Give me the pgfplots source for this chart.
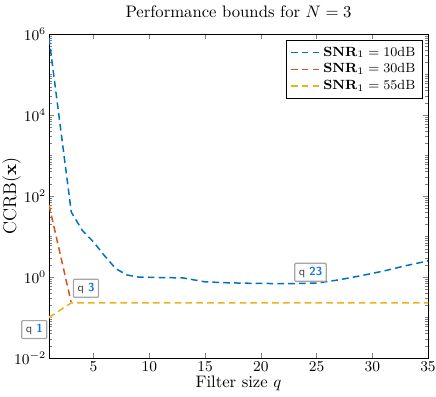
\documentclass[border=0pt]{standalone}
\usepackage{pgfplots}
\pgfplotsset{compat=1.18}
\definecolor{mblue}{rgb}{0,0.447,0.741}
\definecolor{mred}{rgb}{0.85,0.325,0.098}
\definecolor{myellow}{rgb}{0.929,0.694,0.125}
\definecolor{tipblue}{rgb}{0.1,0.45,0.9}
\begin{document}
\begin{tikzpicture}
\begin{axis}[
  scale only axis,
  width=227.4pt, height=194.4pt,
  ymode=log,
  xmin=1, xmax=35,
  ymin=1e-2, ymax=1e6,
  clip mode=individual,
  xtick={5,10,15,20,25,30,35},
  ytick={1e-2,1,1e2,1e4,1e6},
  minor ytick={2e-2,3e-2,4e-2,5e-2,6e-2,7e-2,8e-2,9e-2,1e-1,
    2e-1,3e-1,4e-1,5e-1,6e-1,7e-1,8e-1,9e-1,
    2,3,4,5,6,7,8,9,10,20,30,40,50,60,70,80,90,
    200,300,400,500,600,700,800,900,1e3,
    2e3,3e3,4e3,5e3,6e3,7e3,8e3,9e3,
    2e4,3e4,4e4,5e4,6e4,7e4,8e4,9e4,1e5,
    2e5,3e5,4e5,5e5,6e5,7e5,8e5,9e5},
  tick align=inside,
  major tick length=3pt,
  minor tick length=1.6pt,
  tick label style={font=\small},
  yticklabel style={inner xsep=1.5pt},
  xticklabel style={inner ysep=2pt},
  title={Performance bounds for $N=3$},
  xlabel={Filter size $q$},
  xlabel style={yshift=3pt},
  ylabel={CCRB($\mathbf{x}$)},
  every axis y label/.style={at={(rel axis cs:0,0.5)}, rotate=90, anchor=center,
    yshift=22.4pt, font=\fontsize{11}{13}\selectfont},
  legend style={at={(0.985,0.982)}, anchor=north east, draw=black, fill=white,
    font=\footnotesize, row sep=-1pt, inner sep=2pt},
  legend cell align=left,
  dashed style/.style={line width=0.9pt, dash pattern=on 4pt off 2.5pt},
]
\addlegendimage{mblue, dashed style}
\addlegendentry{$\mathbf{SNR}_1 = 10$dB}
\addlegendimage{mred, dashed style}
\addlegendentry{$\mathbf{SNR}_1 = 30$dB}
\addlegendimage{myellow, dashed style}
\addlegendentry{$\mathbf{SNR}_1 = 55$dB}
\addplot[mblue, dashed style, forget plot] coordinates {
 (1,8e5) (3,40) (4,14) (5,7.3) (6,3.3) (7,1.6) (8,1.12) (9,1.0)
 (11,0.97) (13,0.95) (15,0.76) (17,0.72) (19,0.7) (21,0.69) (23,0.69)
 (25,0.71) (27,0.85) (29,1.08) (31,1.4) (33,1.9) (35,2.5)};
\addplot[mred, dashed style, forget plot] coordinates {
 (1,60) (3,0.23) (5,0.23) (7,0.23) (9,0.23) (11,0.23) (13,0.23) (15,0.23)
 (17,0.23) (19,0.23) (21,0.23) (23,0.23) (25,0.23) (27,0.23) (29,0.23)
 (31,0.23) (33,0.23) (35,0.23)};
\addplot[myellow, dashed style, forget plot, preaction={draw=white, solid, line width=1.3pt}] coordinates {
 (1,0.1) (3,0.23) (5,0.23) (7,0.23) (9,0.23) (11,0.23) (13,0.23) (15,0.23)
 (17,0.23) (19,0.23) (21,0.23) (23,0.23) (25,0.23) (27,0.23) (29,0.23)
 (31,0.23) (33,0.23) (35,0.23)};
\tikzset{tip/.style={draw=gray!70, fill=white, line width=0.7pt, rounded corners=0.5pt,
  inner xsep=2.4pt, inner ysep=2.2pt, font=\sffamily\scriptsize}}
\node[tip, anchor=north east] at ([xshift=-1pt,yshift=-1.5pt]axis cs:1,0.1)
  {\textcolor{gray!60!black}{q} \textcolor{tipblue}{\textbf{1}}};
\node[tip, anchor=south west] at ([xshift=1pt,yshift=3pt]axis cs:3,0.23)
  {\textcolor{gray!60!black}{q} \textcolor{tipblue}{\textbf{3}}};
\node[tip, anchor=south west] at ([xshift=0pt,yshift=1pt]axis cs:23,0.69)
  {\textcolor{gray!60!black}{q} \textcolor{tipblue}{\textbf{23}}};
\end{axis}
\pgfresetboundingbox
\path[use as bounding box] ([xshift=-29.4pt,yshift=-22.8pt]current axis.south west)
  rectangle ([xshift=4.8pt,yshift=20.4pt]current axis.north east);
\end{tikzpicture}
\end{document}
